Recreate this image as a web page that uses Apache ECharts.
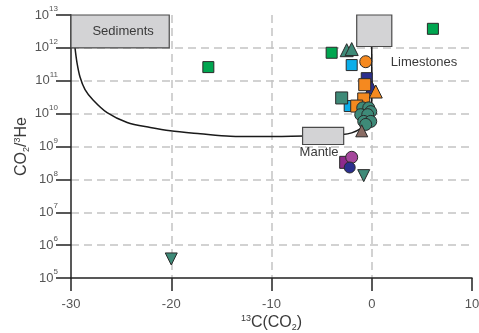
<!DOCTYPE html>
<html>
<head>
<meta charset="utf-8">
<style>
  html, body { margin: 0; padding: 0; background: #fff; }
  #chart { width: 479px; height: 333px; }
</style>
<script src="https://cdn.jsdelivr.net/npm/echarts@6/dist/echarts.min.js"></script>
</head>
<body>
<div id="chart"></div>
<script>
// Axis ranges and ticks
const xTicks = [-30, -20, -10, 0, 10];
const yExponents = [5, 6, 7, 8, 9, 10, 11, 12, 13];

// End-member boxes: δ13C range and CO2/3He range
const boxNames = ['Sediments', 'Limestones', 'Mantle'];
const boxX1 = [-30, -1.5, -6.9];
const boxX2 = [-20.2, 2.0, -2.8];
const boxYLow = [1.0e12, 1.1e12, 1.15e9];
const boxYHigh = [1e13, 1e13, 3.8e9];
const labelX = [-24.8, 1.9, -7.2];
const labelY = [3.2e12, 3.5e11, 6.4e8];
const labelAlign = ['center', 'left', 'left'];

// Mixing curve: sediments -> mantle
const sedMixX = [-29.6, -29.4, -29.1, -28.6, -27.8, -26.4, -24.4, -22.1, -20.1, -17.1, -14.1, -11.1, -8.0, -5.0];
const sedMixY = [1.0e12, 3.5e11, 1.3e11, 5.4e10, 2.6e10, 1.07e10, 5.4e9, 3.8e9, 3.0e9, 2.45e9, 2.05e9, 2.0e9, 2.05e9, 2.1e9];
// Mixing curve: limestones -> mantle
const limeMixX = [0.0, 0.0, -0.1, -0.5, -1.1, -2.0, -2.9, -5.0];
const limeMixY = [1.1e12, 2.6e10, 8.7e9, 5.0e9, 3.5e9, 2.6e9, 2.3e9, 2.1e9];

// Samples, grouped by marker
const purpleSqX = [-2.6];            const purpleSqY = [3.3e8];
const magentaCircX = [-2.0];         const magentaCircY = [4.7e8];
const navyCircX = [-2.2];            const navyCircY = [2.3e8];
const greenSqX = [-16.3, -4.0, 6.1]; const greenSqY = [2.6e11, 7.1e11, 3.8e12];
const cyanSqX = [-2.0, -2.2];        const cyanSqY = [3.0e11, 1.7e10];
const navySqX = [-0.5];              const navySqY = [1.2e11];
const navyTriX = [0.0];              const navyTriY = [6.2e10];
const orangeSqX = [-0.7, -0.8, -1.5];  const orangeSqY = [7.6e10, 2.8e10, 1.7e10];
const orangeTriX = [0.4];            const orangeTriY = [4.7e10];
const orangeCircX = [-0.6];          const orangeCircY = [3.8e11];
const tealSqX = [-3.0];              const tealSqY = [3.0e10];
const tealCircX = [-0.9, -0.3, -0.1, -1.1, -0.4, -0.8, -0.1, -0.6];
const tealCircY = [1.5e10, 1.5e10, 1.15e10, 9.3e9, 9.3e9, 5.8e9, 5.8e9, 4.7e9];
const brownTriX = [-1.0];            const brownTriY = [3.0e9];
const tealTriUpX = [-2.5, -2.0];     const tealTriUpY = [8.5e11, 9.2e11];
const tealTriDownX = [-0.8, -20.0];  const tealTriDownY = [1.3e8, 3.8e5];

const zip = (xs, ys) => xs.map((x, i) => [x, ys[i]]);

const FONT = 'Liberation Sans';
const TEXT = '#3a3a3a';

function scatter(xs, ys, color, symbol, size, rotate) {
  return {
    type: 'scatter',
    data: zip(xs, ys),
    symbol: symbol,
    symbolSize: size,
    symbolRotate: rotate || 0,
    itemStyle: { color: color, borderColor: '#2a2a2a', borderWidth: 1, opacity: 1 },
    emphasis: { disabled: true },
    z: 5
  };
}

const boxes = boxNames.map((n, i) => [boxX1[i], boxYLow[i], boxX2[i], boxYHigh[i]]);
const labels = boxNames.map((n, i) => [labelX[i], labelY[i], i]);

const chart = echarts.init(document.getElementById('chart'), null, { renderer: 'canvas' });

chart.setOption({
  animation: false,
  backgroundColor: '#fff',
  grid: { left: 71, right: 7, top: 15, bottom: 55, outerBoundsMode: 'none', containLabel: false },
  xAxis: {
    type: 'value',
    min: xTicks[0],
    max: xTicks[xTicks.length - 1],
    interval: 10,
    name: '{sup|13}{b|C(CO}{sub|2}{b|)}',
    nameLocation: 'middle',
    nameGap: 36,
    nameMoveOverlap: false,
    nameTextStyle: {
      rich: {
        b: { fontFamily: FONT, fontSize: 16, color: TEXT, lineHeight: 18 },
        sup: { fontFamily: FONT, fontSize: 9, color: TEXT, verticalAlign: 'top', lineHeight: 10 },
        sub: { fontFamily: FONT, fontSize: 9, color: TEXT, verticalAlign: 'bottom', lineHeight: 8 }
      }
    },
    axisLine: { onZero: false, lineStyle: { color: '#222', width: 1.5 } },
    axisTick: { show: true, inside: false, length: 13, lineStyle: { color: '#222', width: 1.5 } },
    axisLabel: { margin: 20, fontFamily: FONT, fontSize: 13, color: '#555' },
    splitLine: {
      show: true, showMinLine: false, showMaxLine: false,
      lineStyle: { color: '#c4c4c4', width: 1.5, type: [8, 5] }
    }
  },
  yAxis: {
    type: 'log',
    logBase: 10,
    min: Math.pow(10, yExponents[0]),
    max: Math.pow(10, yExponents[yExponents.length - 1]),
    name: '{b|CO}{sub|2}{b|/}{sup|3}{b|He}',
    nameLocation: 'middle',
    nameRotate: 90,
    nameGap: 40,
    nameMoveOverlap: false,
    nameTextStyle: {
      rich: {
        b: { fontFamily: FONT, fontSize: 16, color: TEXT, lineHeight: 18 },
        sup: { fontFamily: FONT, fontSize: 9, color: TEXT, verticalAlign: 'top', lineHeight: 10 },
        sub: { fontFamily: FONT, fontSize: 9, color: TEXT, verticalAlign: 'bottom', lineHeight: 8 }
      }
    },
    axisLine: { show: true, onZero: false, lineStyle: { color: '#222', width: 1.5 } },
    axisTick: { show: true, inside: false, length: 15, lineStyle: { color: '#222', width: 1.5 } },
    axisLabel: {
      margin: 13,
      formatter: v => '{b|10}{sup|' + Math.round(Math.log10(v)) + '}',
      rich: {
        b: { fontFamily: FONT, fontSize: 13, color: '#555', lineHeight: 20 },
        sup: { fontFamily: FONT, fontSize: 8, color: '#555', verticalAlign: 'top', lineHeight: 9 }
      }
    },
    splitLine: {
      show: true, showMinLine: false, showMaxLine: false,
      lineStyle: { color: '#c4c4c4', width: 1.5, type: [8, 5] }
    }
  },
  series: [
    {
      type: 'line',
      data: zip(sedMixX, sedMixY),
      showSymbol: false,
      smooth: 0.3,
      lineStyle: { color: '#1a1a1a', width: 1.5 },
      emphasis: { disabled: true },
      z: 2
    },
    {
      type: 'line',
      data: zip(limeMixX, limeMixY),
      showSymbol: false,
      smooth: 0.3,
      lineStyle: { color: '#1a1a1a', width: 1.5 },
      emphasis: { disabled: true },
      z: 2
    },
    {
      type: 'custom',
      data: boxes,
      dimensions: ['x1', 'y1', 'x2', 'y2'],
      encode: { x: [0, 2], y: [1, 3] },
      renderItem: (params, api) => {
        const p1 = api.coord([api.value(0), api.value(1)]);
        const p2 = api.coord([api.value(2), api.value(3)]);
        return {
          type: 'rect',
          shape: {
            x: Math.min(p1[0], p2[0]), y: Math.min(p1[1], p2[1]),
            width: Math.abs(p2[0] - p1[0]), height: Math.abs(p2[1] - p1[1])
          },
          style: { fill: '#d3d3d5', stroke: '#4a4a4a', lineWidth: 1.2 }
        };
      },
      z: 3
    },
    {
      type: 'custom',
      data: labels,
      encode: { x: 0, y: 1 },
      renderItem: (params, api) => {
        const p = api.coord([api.value(0), api.value(1)]);
        const i = api.value(2);
        return {
          type: 'text',
          x: p[0], y: p[1],
          style: {
            text: boxNames[i],
            fontFamily: FONT, fontSize: 13, fill: TEXT,
            align: labelAlign[i], verticalAlign: 'middle'
          }
        };
      },
      z: 4
    },
    scatter(purpleSqX, purpleSqY, '#8e2a8c', 'rect', 12),
    scatter(magentaCircX, magentaCircY, '#a5479c', 'circle', 12),
    scatter(navyCircX, navyCircY, '#2b2f8e', 'circle', 11),
    scatter(greenSqX, greenSqY, '#00a650', 'rect', 11),
    scatter(cyanSqX, cyanSqY, '#0aaeea', 'rect', 11),
    scatter(navySqX, navySqY, '#2b2f8e', 'rect', 11),
    scatter(navyTriX, navyTriY, '#2b2f8e', 'triangle', 13),
    scatter(orangeSqX, orangeSqY, '#f5891f', 'rect', 12),
    scatter(orangeTriX, orangeTriY, '#f5891f', 'triangle', 13),
    scatter(orangeCircX, orangeCircY, '#f5891f', 'circle', 12),
    scatter(tealSqX, tealSqY, '#3e8a78', 'rect', 12),
    scatter(tealCircX, tealCircY, '#3e8a78', 'circle', 12),
    scatter(brownTriX, brownTriY, '#8a6c64', 'triangle', 12),
    scatter(tealTriUpX, tealTriUpY, '#3e8a78', 'triangle', 13),
    scatter(tealTriDownX, tealTriDownY, '#3e8a78', 'triangle', 12, 180)
  ]
});
</script>
</body>
</html>
